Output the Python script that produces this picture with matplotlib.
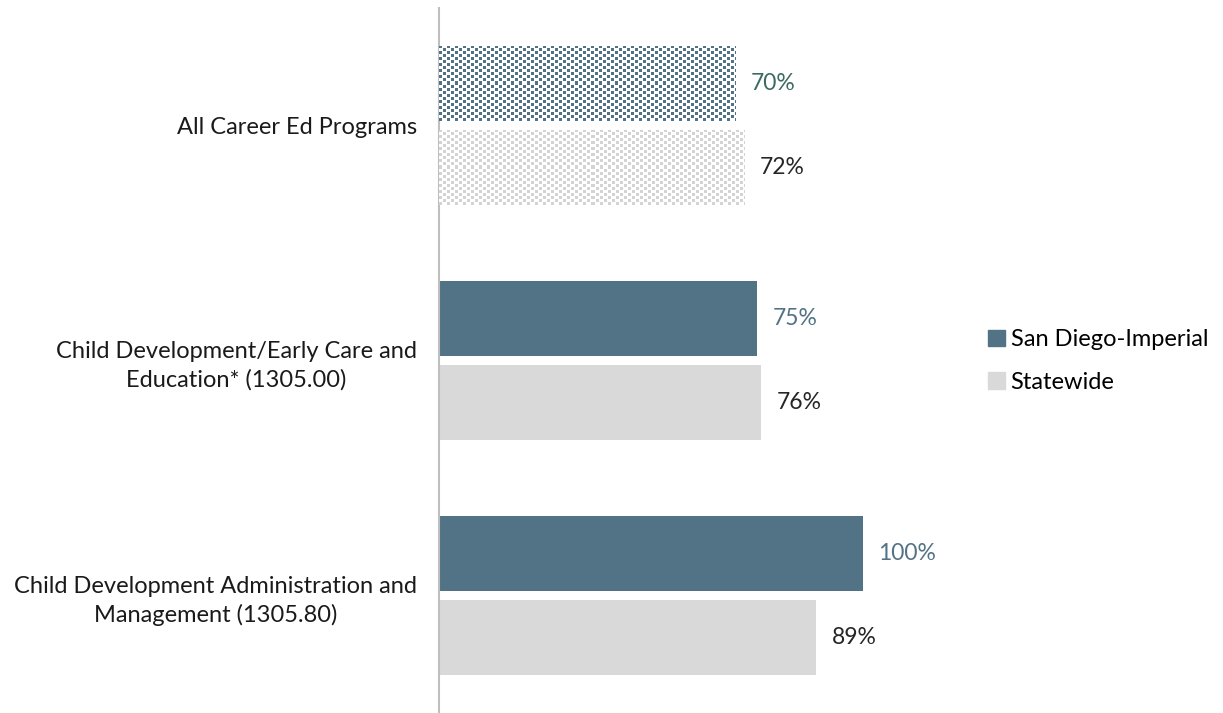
import matplotlib.pyplot as plt
import matplotlib.colors as mcolors
import numpy as np

# data
categories = ['All Career Ed Programs',
              'Child Development/Early Care and\nEducation* (1305.00)',
              'Child Development Administration and\nManagement (1305.80)']
regional = [0.70, 0.75, 1.00]
statewide = [0.72, 0.76, 0.89]
series_names = ['San Diego-Imperial', 'Statewide']

dark = '#527386'
light = '#D9D9D9'

plt.rcParams['font.family'] = ['Lato', 'DejaVu Sans']

fig = plt.figure(figsize=(12.23, 7.13), dpi=100)
ax = fig.add_axes([439 / 1223, 0, 521 / 1223, 705 / 713])

y = np.arange(len(categories))
h = 0.32
off = 0.18

bars_r = ax.barh(y - off, regional, height=h, color=dark, label=series_names[0])
bars_s = ax.barh(y + off, statewide, height=h, color=light, label=series_names[1])

ax.set_xlim(0, 521 / 424)
ax.set_ylim(2.5, -0.5)


# small checker pattern on the first group (all programs), built pixel by pixel
def pattern_fill(bar, col):
    bar.set_facecolor('white')
    x0, y0 = bar.get_x(), bar.get_y()
    w, hh = bar.get_width(), bar.get_height()
    p0 = ax.transData.transform((x0, y0))
    p1 = ax.transData.transform((x0 + w, y0 + hh))
    nx = int(round(abs(p1[0] - p0[0])))
    ny = int(round(abs(p1[1] - p0[1])))
    rr, cc = np.mgrid[0:ny, 0:nx]
    on = ((rr % 6) < 3) & ((cc % 8) < 3)
    on |= (((rr + 3) % 6) < 3) & (((cc + 4) % 8) < 3)
    rgba = np.ones((ny, nx, 4))
    rgba[on] = mcolors.to_rgba(col)
    im = ax.imshow(rgba, extent=[x0, x0 + w, y0 + hh, y0], aspect='auto',
                   interpolation='nearest', zorder=3)
    im.set_clip_path(bar)


pattern_fill(bars_r[0], dark)
pattern_fill(bars_s[0], '#D3D3D3')
ax.set_ylim(2.5, -0.5)
ax.set_xlim(0, 521 / 424)

# value labels
label_cols = ['#3B6B60', dark, dark]
for i, v in enumerate(regional):
    ax.annotate(f'{v:.0%}', (v, y[i] - off), xytext=(11, 0), textcoords='offset points',
                va='center', ha='left', fontsize=16.5, color=label_cols[i])
for i, v in enumerate(statewide):
    ax.annotate(f'{v:.0%}', (v, y[i] + off), xytext=(11, 0), textcoords='offset points',
                va='center', ha='left', fontsize=16.5, color='#262626')

ax.set_yticks(y)
ax.set_yticklabels(categories, fontsize=17, color='#1a1a1a')
for t in ax.get_yticklabels():
    t.set_multialignment('center')
    t.set_linespacing(1.4)
ax.tick_params(axis='y', length=0, pad=16)
ax.set_xticks([])

for s in ['top', 'right', 'bottom']:
    ax.spines[s].set_visible(False)
ax.spines['left'].set_color('#BFBFBF')
ax.spines['left'].set_linewidth(1.5)

handles = [plt.Rectangle((0, 0), 1, 1, color=dark), plt.Rectangle((0, 0), 1, 1, color=light)]
fig.legend(handles, series_names, loc='center left', bbox_to_anchor=(967 / 1223, 1 - 361 / 713),
           frameon=False, fontsize=17, handlelength=0.7, handleheight=0.7,
           handletextpad=0.25, labelspacing=0.9)

fig.savefig('out.png', dpi=100)
